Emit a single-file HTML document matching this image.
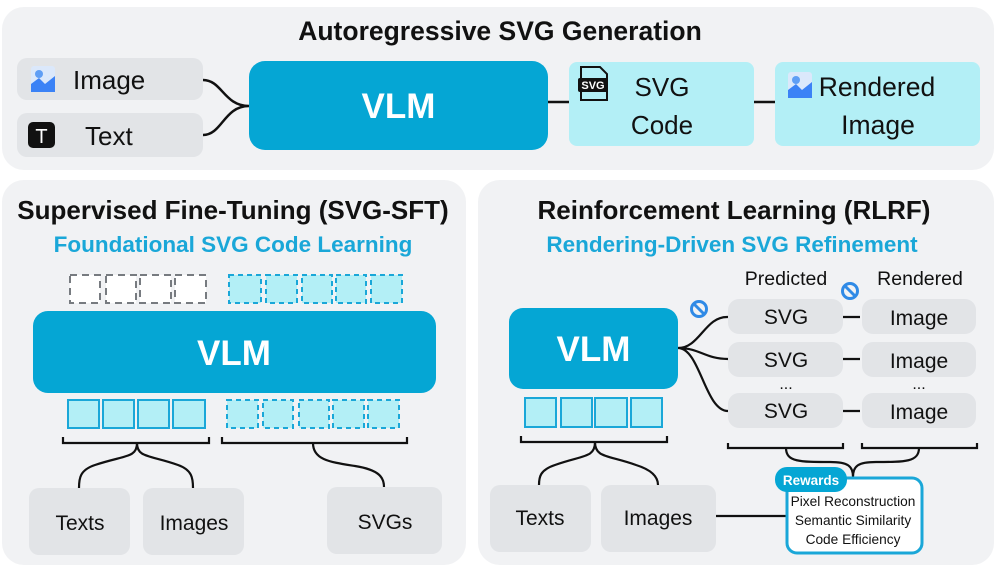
<!DOCTYPE html>
<html><head><meta charset="utf-8"><style>
html,body{margin:0;padding:0;background:#fff;}
svg{display:block;font-family:"Liberation Sans",sans-serif;}
</style></head><body>
<svg width="996" height="567" viewBox="0 0 996 567" xmlns="http://www.w3.org/2000/svg">
<defs>
<g id="imgicon"><rect x="0" y="0" width="24" height="26" rx="3" fill="#dbe8fb"/><circle cx="8" cy="8" r="4" fill="#5f9ef5"/><path d="M0 26 L0 18 L8 12 L14 18 L24 10 L24 26 Z" fill="#3b82f6"/></g>
<g id="ban"><circle r="7.5" fill="none" stroke="#2f8ae6" stroke-width="3"/><line x1="-5" y1="-5" x2="5" y2="5" stroke="#2f8ae6" stroke-width="3"/></g>
</defs>
<rect x="2" y="7" width="992" height="163" rx="22" fill="#f1f2f4"/>
<rect x="2" y="180" width="464" height="385" rx="22" fill="#f1f2f4"/>
<rect x="478" y="180" width="516" height="385" rx="22" fill="#f1f2f4"/>

<!-- TOP -->
<text x="500" y="40" text-anchor="middle" font-size="26.5" font-weight="bold" fill="#111">Autoregressive SVG Generation</text>
<rect x="17" y="58" width="186" height="42" rx="10" fill="#e2e4e7"/>
<rect x="17" y="113" width="186" height="44" rx="10" fill="#e2e4e7"/>
<use href="#imgicon" x="31" y="66"/>
<text x="73" y="89" font-size="26" fill="#111">Image</text>
<rect x="28" y="122" width="27" height="26" rx="5" fill="#111"/>
<text x="41.5" y="143" text-anchor="middle" font-size="20" fill="#fff">T</text>
<text x="85" y="145" font-size="26" fill="#111">Text</text>
<path d="M203 80 C222 80 224 106 249 106 M203 135 C222 135 224 106 249 106" fill="none" stroke="#111" stroke-width="2.5"/>
<rect x="249" y="61" width="299" height="89" rx="16" fill="#05a6d4"/>
<text x="398.5" y="118" text-anchor="middle" font-size="35" font-weight="bold" fill="#fff">VLM</text>
<line x1="548" y1="102" x2="569" y2="102" stroke="#111" stroke-width="2.5"/>
<rect x="569" y="62" width="185" height="84" rx="8" fill="#b3eff6"/>
<path d="M581 67 L600 67 L607 74 L607 100 L581 100 Z" fill="none" stroke="#111" stroke-width="2"/>
<rect x="578" y="78" width="30" height="14" rx="2" fill="#111"/>
<text x="593" y="89" text-anchor="middle" font-size="11" font-weight="bold" fill="#fff">SVG</text>
<text x="662" y="96" text-anchor="middle" font-size="26" fill="#111">SVG</text>
<text x="662" y="134" text-anchor="middle" font-size="26" fill="#111">Code</text>
<line x1="754" y1="102" x2="775" y2="102" stroke="#111" stroke-width="2.5"/>
<rect x="775" y="62" width="205" height="84" rx="8" fill="#b3eff6"/>
<use href="#imgicon" x="788" y="72"/>
<text x="877" y="96" text-anchor="middle" font-size="26.5" fill="#111">Rendered</text>
<text x="878" y="134" text-anchor="middle" font-size="26.5" fill="#111">Image</text>

<!-- BOTTOM LEFT -->
<text x="233" y="219" text-anchor="middle" font-size="26" font-weight="bold" fill="#111">Supervised Fine-Tuning (SVG-SFT)</text>
<text x="233" y="252" text-anchor="middle" font-size="22.5" font-weight="bold" fill="#1aa7d8">Foundational SVG Code Learning</text>
<g fill="#fff" stroke="#777b80" stroke-width="2" stroke-dasharray="7 5">
<rect x="70" y="275" width="30" height="28"/><rect x="106" y="275" width="30" height="28"/><rect x="140" y="275" width="31" height="28"/><rect x="175" y="275" width="31" height="28"/>
</g>
<g fill="#b3eff6" stroke="#1aa7d8" stroke-width="2" stroke-dasharray="5 4">
<rect x="229" y="275" width="32" height="28"/><rect x="266" y="275" width="31" height="28"/><rect x="302" y="275" width="30" height="28"/><rect x="336" y="275" width="30" height="28"/><rect x="371" y="275" width="31" height="28"/>
<rect x="227" y="400" width="31" height="28"/><rect x="263" y="400" width="30" height="28"/><rect x="299" y="400" width="30" height="28"/><rect x="333" y="400" width="31" height="28"/><rect x="368" y="400" width="31" height="28"/>
</g>
<rect x="33" y="311" width="403" height="82" rx="15" fill="#05a6d4"/>
<text x="234" y="365" text-anchor="middle" font-size="35" font-weight="bold" fill="#fff">VLM</text>
<g fill="#b3eff6" stroke="#1aa7d8" stroke-width="2">
<rect x="68" y="400" width="31" height="28"/><rect x="103" y="400" width="31" height="28"/><rect x="138" y="400" width="31" height="28"/><rect x="173" y="400" width="32" height="28"/>
</g>
<g fill="none" stroke="#111" stroke-width="2.2">
<path d="M63 437 L63 443 L209 443 L209 437"/>
<path d="M137 443 C137 458 125 455 95 465 C80 470 79 478 79 488 M137 443 C137 458 150 455 178 465 C192 470 193 478 193 488"/>
<path d="M222 437 L222 443 L407 443 L407 437"/>
<path d="M313 443 C313 460 330 462 355 466 C380 470 384 478 384 487"/>
</g>
<rect x="29" y="488" width="101" height="67" rx="10" fill="#e2e4e7"/>
<rect x="143" y="488" width="101" height="67" rx="10" fill="#e2e4e7"/>
<rect x="327" y="487" width="115" height="67" rx="10" fill="#e2e4e7"/>
<text x="80" y="530" text-anchor="middle" font-size="21" fill="#111">Texts</text>
<text x="194" y="530" text-anchor="middle" font-size="21" fill="#111">Images</text>
<text x="385" y="529" text-anchor="middle" font-size="21" fill="#111">SVGs</text>

<!-- BOTTOM RIGHT -->
<text x="734" y="219" text-anchor="middle" font-size="26" font-weight="bold" fill="#111">Reinforcement Learning (RLRF)</text>
<text x="732" y="252" text-anchor="middle" font-size="22.5" font-weight="bold" fill="#1aa7d8">Rendering-Driven SVG Refinement</text>
<text x="786" y="285" text-anchor="middle" font-size="19.5" fill="#111">Predicted</text>
<text x="920" y="285" text-anchor="middle" font-size="19.5" fill="#111">Rendered</text>
<use href="#ban" x="699" y="309"/>
<use href="#ban" x="850" y="291"/>
<rect x="509" y="308" width="169" height="81" rx="14" fill="#05a6d4"/>
<text x="593.5" y="361" text-anchor="middle" font-size="35" font-weight="bold" fill="#fff">VLM</text>
<g fill="#b3eff6" stroke="#1aa7d8" stroke-width="2">
<rect x="525" y="398" width="31" height="29"/><rect x="561" y="398" width="31" height="29"/><rect x="595" y="398" width="32" height="29"/><rect x="631" y="398" width="31" height="29"/>
</g>
<g fill="#e2e4e7">
<rect x="728" y="299" width="115" height="35" rx="11"/><rect x="728" y="342" width="115" height="35" rx="11"/><rect x="728" y="393" width="115" height="35" rx="11"/>
<rect x="862" y="299" width="114" height="35" rx="11"/><rect x="862" y="342" width="114" height="35" rx="11"/><rect x="862" y="393" width="114" height="35" rx="11"/>
</g>
<g font-size="21" fill="#111" text-anchor="middle">
<text x="786" y="324">SVG</text><text x="786" y="367">SVG</text><text x="786" y="418">SVG</text>
<text x="919" y="325">Image</text><text x="919" y="368">Image</text><text x="919" y="419">Image</text>
<text x="786" y="389" font-size="16">...</text><text x="919" y="389" font-size="16">...</text>
</g>
<g fill="none" stroke="#111" stroke-width="2.2">
<path d="M678 348 C700 348 705 316 728 317 M678 348 C700 348 705 359 728 359 M678 348 C700 348 705 411 728 411"/>
<line x1="843" y1="317" x2="860" y2="317"/><line x1="843" y1="359" x2="860" y2="359"/><line x1="843" y1="411" x2="860" y2="411"/>
<path d="M521 436 L521 442 L667 442 L667 436"/>
<path d="M595 442 C595 458 583 455 555 465 C540 470 539 477 539 485 M595 442 C595 458 608 455 636 465 C652 470 658 477 658 485"/>
<path d="M728 443 L728 448 L843 448 L843 443"/>
<path d="M862 443 L862 448 L977 448 L977 443"/>
<path d="M786 448 C786 462 800 462 830 462 C848 462 853 466 853 477 M919 448 C919 462 905 462 876 462 C858 462 853 466 853 477"/>
<line x1="716" y1="516" x2="786" y2="516"/>
</g>
<rect x="490" y="485" width="101" height="67" rx="10" fill="#e2e4e7"/>
<rect x="601" y="485" width="115" height="67" rx="10" fill="#e2e4e7"/>
<text x="540" y="525" text-anchor="middle" font-size="21" fill="#111">Texts</text>
<text x="658" y="525" text-anchor="middle" font-size="21" fill="#111">Images</text>
<rect x="787" y="478" width="135" height="75" rx="10" fill="#fff" stroke="#1aa7d8" stroke-width="3"/>
<rect x="775" y="467" width="72" height="25" rx="12" fill="#05a6d4"/>
<text x="811" y="485" text-anchor="middle" font-size="13.5" font-weight="bold" fill="#fff">Rewards</text>
<g font-size="13.7" fill="#111" text-anchor="middle">
<text x="853" y="506">Pixel Reconstruction</text>
<text x="853" y="525">Semantic Similarity</text>
<text x="853" y="544">Code Efficiency</text>
</g>
</svg>
</body></html>
